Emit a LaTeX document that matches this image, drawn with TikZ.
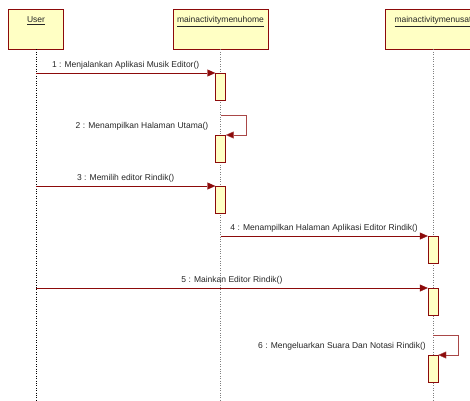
\documentclass[tikz,border=0pt]{standalone}
\usepackage{fontspec}
\setmainfont{Liberation Sans}
\usetikzlibrary{arrows.meta}
\definecolor{umlred}{RGB}{140,10,10}
\definecolor{umlfill}{RGB}{255,255,196}
\newcommand*{\msgfont}{\fontsize{8.5pt}{9pt}\selectfont}

\begin{document}
\begin{tikzpicture}[x=1pt,y=-1pt,
    objbox/.style={draw=umlred, fill=umlfill, minimum height=40pt, inner sep=0pt, anchor=north},
    objlabel/.style={font=\msgfont, text=black!85, inner sep=0pt, anchor=north},
    act/.style={draw=umlred, fill=umlfill, minimum width=10pt, minimum height=27pt, inner sep=0pt, anchor=north},
    lifeline/.style={dotted, gray},
    msg/.style={umlred, -{Triangle[length=8pt,width=7pt]}},
    selfmsg/.style={umlred!75, -{Triangle[length=8pt,width=7pt,fill=umlred]}},
    lbl/.style={font=\msgfont, text=black!85, inner sep=1pt}]
  \clip (0,0) rectangle (470,400);
  \useasboundingbox (0,0) rectangle (470,400);

  % heads
  \node[objbox, minimum width=55pt] (user) at (36,9) {};
  \node[objbox, minimum width=95pt] (home) at (220.5,9) {};
  \node[objbox, minimum width=95pt] (sat) at (433,9) {};
  \node[objlabel] at ([yshift=-7.5pt]user.north) {\underline{User}};
  \node[objlabel] at ([yshift=-7.5pt]home.north) {\underline{mainactivitymenuhome}};
  \node[objlabel] at ([yshift=-7.5pt]sat.north) {\underline{mainactivitymenusat}};

  % lifelines
  \draw[dotted, black] (user.south) -- (user.south |- 0,400);
  \draw[lifeline] (home.south) -- (home.south |- 0,400);
  \draw[lifeline] (sat.south) -- (sat.south |- 0,400);

  % activations
  \node[act] (a1) at (220.5,73) {};
  \node[act] (a2) at (220.5,135) {};
  \node[act] (a3) at (220.5,186) {};
  \node[act] (a4) at (433,236) {};
  \node[act] (a5) at (433,288) {};
  \node[act] (a6) at (433,355) {};
  \coordinate (s2) at (220.5,115);
  \coordinate (s6) at (433,335);

  % messages
  \draw[msg] (user.south |- a1.north) -- (a1.north west)
    node[lbl, midway, above=3pt] {1 : Menjalankan Aplikasi Musik Editor()};
  \draw[selfmsg] (s2) -| ([xshift=20pt]a2.north east) -- (a2.north east);
  \node[lbl, anchor=east] at ([xshift=-11pt, yshift=-11pt]s2) {2 : Menampilkan Halaman Utama()};
  \draw[msg] (user.south |- a3.north) -- (a3.north west)
    node[lbl, midway, above=3pt] {3 : Memilih editor Rindik()};
  \draw[msg] (home.south |- a4.north) -- (a4.north west)
    node[lbl, midway, above=3pt] {4 : Menampilkan Halaman Aplikasi Editor Rindik()};
  \draw[msg] (user.south |- a5.north) -- (a5.north west)
    node[lbl, midway, above=3pt] {5 : Mainkan Editor Rindik()};
  \draw[selfmsg] (s6) -| ([xshift=20pt]a6.north east) -- (a6.north east);
  \node[lbl, anchor=east] at ([xshift=-6pt, yshift=-11pt]s6) {6 : Mengeluarkan Suara Dan Notasi Rindik()};
\end{tikzpicture}
\end{document}
